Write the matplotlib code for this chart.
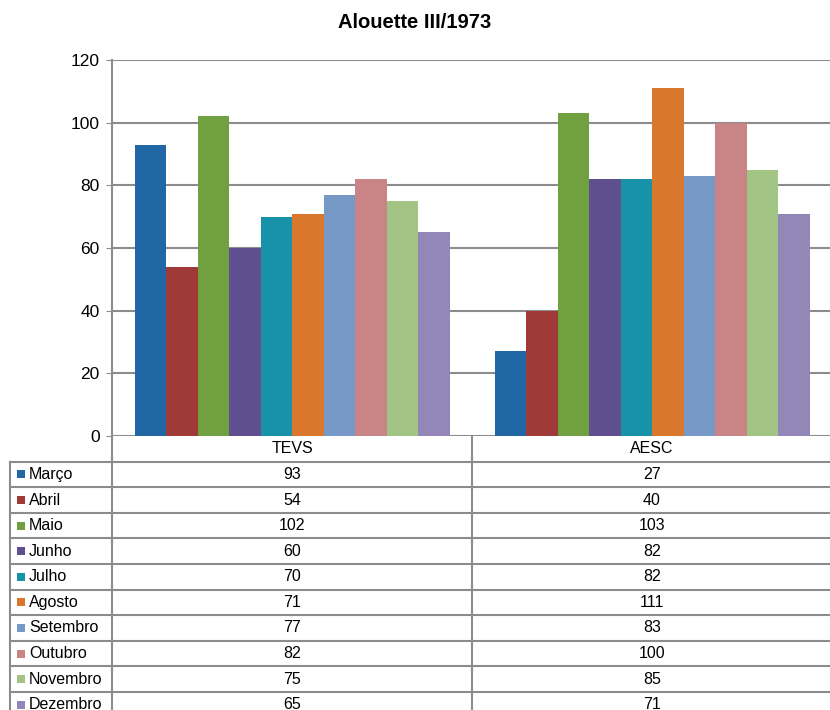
import matplotlib.pyplot as plt
import numpy as np

plt.rcParams['font.family'] = ['Liberation Sans', 'DejaVu Sans']

# data
groups = ["TEVS", "AESC"]
months = ["Março", "Abril", "Maio", "Junho", "Julho", "Agosto",
          "Setembro", "Outubro", "Novembro", "Dezembro"]
tevs = [93, 54, 102, 60, 70, 71, 77, 82, 75, 65]
aesc = [27, 40, 103, 82, 82, 111, 83, 100, 85, 71]
colors = ["#2166a5", "#a03a38", "#70a03f", "#5f4f8e", "#1892a8",
          "#d9782c", "#7799c8", "#c98585", "#a2c586", "#9387b7"]

W, H = 830, 710
fig = plt.figure(figsize=(W / 100, H / 100), dpi=100)
fig.text(0.5, 1 - 23 / H, "Alouette III/1973", ha="center", va="center",
         fontsize=14.5, fontweight="bold")

# pixel helpers for layout
px_left, px_right = 112, 830
px_top, px_zero = 60, 436
cat_w = 360.0  # pixels per category

def x_from_px(px):
    return -0.5 + (px - px_left) / cat_w

ax = fig.add_axes([px_left / W, 1 - px_zero / H,
                   (px_right - px_left) / W, (px_zero - px_top) / H])
ax.set_xlim(x_from_px(px_left), x_from_px(px_right))
ax.set_ylim(0, 120)

values = np.array([tevs, aesc])  # shape (2, 10)
x = np.arange(len(groups))
bw = 0.0875
n = len(months)
for i, m in enumerate(months):
    ax.bar(x - bw * n / 2 + bw * (i + 0.5), values[:, i], width=bw,
           color=colors[i], zorder=3, linewidth=0)

ax.set_yticks(np.arange(0, 121, 20))
ax.tick_params(axis="y", labelsize=12.5, length=4, color="#8c8c8c", pad=5)
ax.set_xticks([])
ax.yaxis.grid(True, color="#8c8c8c", linewidth=1.5, zorder=0)
for s in ["top", "right", "bottom"]:
    ax.spines[s].set_visible(False)
ax.spines["left"].set_color("#8c8c8c")
ax.spines["left"].set_linewidth(1.5)

# data table below the plot
tax = fig.add_axes([0, 0, 1, (H - px_zero) / H])
tax.set_xlim(x_from_px(0), x_from_px(W))
row_h = 25.6
n_rows = (H - px_zero) / row_h
tax.set_ylim(n_rows, 0)
tax.axis("off")
line_kw = dict(color="#8c8c8c", linewidth=1.5)
x_tab_left = x_from_px(10)
x_lab = x_from_px(px_left)
x_mid = 0.5

# vertical lines
tax.plot([x_lab, x_lab], [0, n_rows], **line_kw)
tax.plot([x_mid, x_mid], [0, n_rows], **line_kw)
tax.plot([x_tab_left, x_tab_left], [1, n_rows], **line_kw)
# horizontal lines
for r in range(1, len(months) + 2):
    tax.plot([x_tab_left, x_from_px(W)], [r, r], **line_kw)

tfs = 11.5
for j, g in enumerate(groups):
    tax.text(x[j], 0.5, g, ha="center", va="center", fontsize=tfs)
for i, m in enumerate(months):
    yc = i + 1.5
    tax.scatter([x_from_px(21)], [yc], marker="s", s=34, color=colors[i],
                linewidths=0)
    tax.text(x_from_px(29), yc, m, ha="left", va="center", fontsize=tfs)
    for j in range(len(groups)):
        tax.text(x[j], yc, str(values[j, i]), ha="center", va="center",
                 fontsize=tfs)

fig.savefig("out.png", dpi=100)
